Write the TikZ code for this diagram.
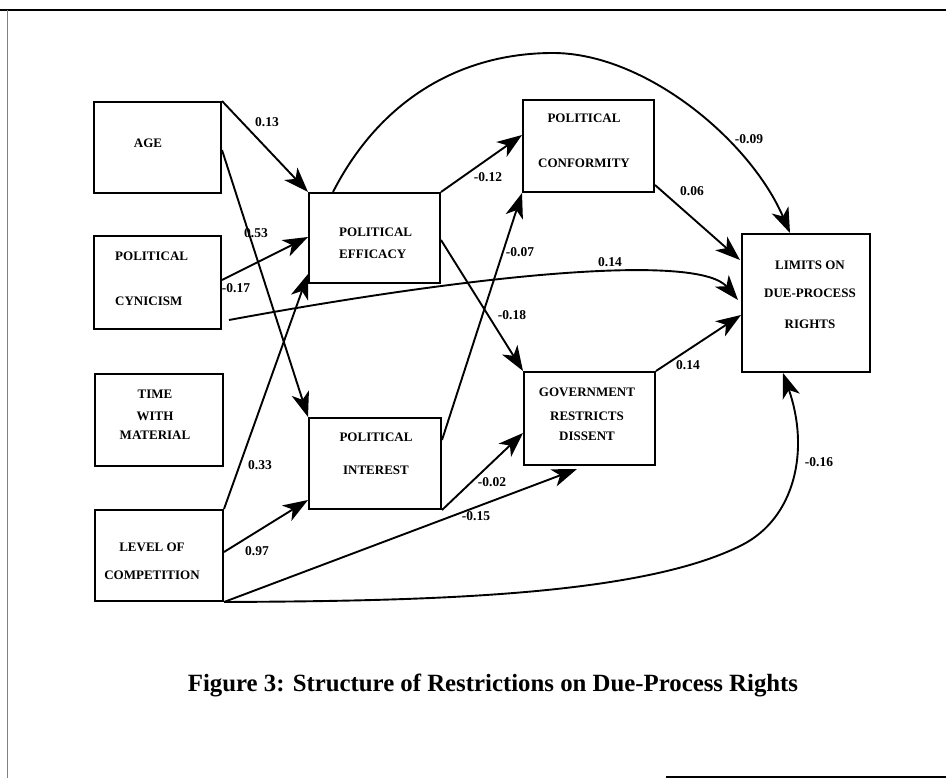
\documentclass[tikz,border=0pt]{standalone}
\usepackage{fontspec}
\setmainfont{Liberation Serif}
\usetikzlibrary{arrows.meta,calc}
\begin{document}
\begin{tikzpicture}[x=1pt,y=-1pt,
  box/.style={draw,line width=2pt,inner sep=0pt,anchor=north west},
  txt/.style={font=\bfseries\fontsize{13}{15}\selectfont,inner sep=0pt},
  num/.style={font=\bfseries\fontsize{13.5}{15}\selectfont,inner sep=0pt},
  conn/.style={line width=1.9pt,-{Stealth[length=25pt,width=18pt,inset=7pt]}},
  frameline/.style={line width=1.4pt}]
\useasboundingbox (0,0) rectangle (946,778);
% frame
\coordinate (ftl) at (0,10);
\coordinate (ftr) at (946,10);
\coordinate (fl) at (7,10);
\coordinate (flb) at (7,778);
\coordinate (fbl) at (666,777);
\coordinate (fbr) at (946,777);
\draw[frameline] (ftl) -- (ftr);
\draw[line width=0.6pt,gray] (fl) -- (flb);
\draw[frameline] (fbl) -- (fbr);
% boxes
\node[box,minimum width=127pt,minimum height=91pt] (age) at (93,101) {};
\node[box,minimum width=127pt,minimum height=93pt] (cyn) at (93,235) {};
\node[box,minimum width=128pt,minimum height=92pt] (tim) at (94,373) {};
\node[box,minimum width=128pt,minimum height=91pt] (lev) at (94,509) {};
\node[box,minimum width=131pt,minimum height=90pt] (eff) at (308,192) {};
\node[box,minimum width=132pt,minimum height=91pt] (int) at (308,417) {};
\node[box,minimum width=131pt,minimum height=92pt] (con) at (522,99) {};
\node[box,minimum width=131pt,minimum height=93pt] (gov) at (523,371) {};
\node[box,minimum width=128pt,minimum height=138pt] (lim) at (741,233) {};
% box texts
\node[txt] (ageT) at (148,143) {AGE};
\node[txt,align=left,anchor=west] (cynT) at (115,278.5) {POLITICAL\\[30pt]CYNICISM};
\node[txt,align=center] (timT) at (155,414.5) {TIME\\[7pt]WITH\\[4pt]MATERIAL};
\node[txt,align=center] (levT) at (152,561) {LEVEL OF\\[13pt]COMPETITION};
\node[txt,align=left,anchor=west] (effT) at (339,243) {POLITICAL\\[7pt]EFFICACY};
\node[txt,align=center] (intT) at (376,453.5) {POLITICAL\\[18pt]INTEREST};
\node[txt,align=center] (conT) at (584,140.5) {POLITICAL\\[30pt]CONFORMITY};
\node[txt,align=center] (govT) at (587,414) {GOVERNMENT\\[9pt]RESTRICTS\\[5pt]DISSENT};
\node[txt,align=center] (limT) at (810,294.5) {LIMITS ON\\[13pt]DUE-PROCESS\\[16pt]RIGHTS};
% connectors
\draw[conn] (age.north east) -- (eff.north west);
\draw[conn] ($(age.north east)+(0,49)$) -- (int.north west);
\draw[conn] ($(cyn.north east)+(0,45)$) -- ($(eff.north west)+(0,45)$);
\draw[conn] (lev.north east) -- ($(eff.south west)+(0,-10)$);
\draw[conn] ($(lev.north east)+(0,43)$) -- ($(int.south west)+(0,-10)$);
\draw[conn] (lev.south east) -- ($(gov.south west)+(54,3)$);
\draw[conn] (lev.south east) .. controls (420,601) and (640,597) .. (742,545)
  .. controls (795,518) and (810,450) .. ($(lim.south west)+(42,0)$);
\draw[conn] ($(cyn.south east)+(7,-10)$) .. controls (500,270) and (700,255) .. ($(lim.north west)+(-3,67)$);
\draw[conn] (eff.north east) -- ($(con.north west)+(0,36)$);
\draw[conn] ($(int.north east)+(0,23)$) -- (con.south west);
\draw[conn] ($(eff.north east)+(0,48)$) -- (gov.north west);
\draw[conn] (int.south east) -- ($(gov.north west)+(0,62)$);
\draw[conn] ($(con.south east)+(0,-8)$) -- ($(lim.north west)+(-1,27)$);
\draw[conn] (gov.north east) -- ($(lim.north west)+(0,82)$);
\draw[conn] ($(eff.north west)+(25,0)$) .. controls (380,100) and (460,53) .. (553,53)
  .. controls (645,53) and (750,140) .. ($(lim.north west)+(49,0)$);
% labels
\node[num] (l1) at (267,122) {0.13};
\node[num] (l2) at (256,233) {0.53};
\node[num] (l3) at (236,288) {-0.17};
\node[num] (l4) at (260,465) {0.33};
\node[num] (l5) at (257,551) {0.97};
\node[num] (l6) at (476,516) {-0.15};
\node[num] (l7) at (819,462) {-0.16};
\node[num] (l8) at (610,262) {0.14};
\node[num] (l9) at (488,177) {-0.12};
\node[num] (l10) at (520,252) {-0.07};
\node[num] (l11) at (512,315) {-0.18};
\node[num] (l12) at (492,482) {-0.02};
\node[num] (l13) at (692,191) {0.06};
\node[num] (l14) at (688,365) {0.14};
\node[num] (l15) at (749,139) {-0.09};
% caption
\node[font=\bfseries\fontsize{24.8}{28}\selectfont,inner sep=0pt,anchor=base] (cap) at (493,691) {Figure 3: Structure of Restrictions on Due-Process Rights};
\end{tikzpicture}
\end{document}
